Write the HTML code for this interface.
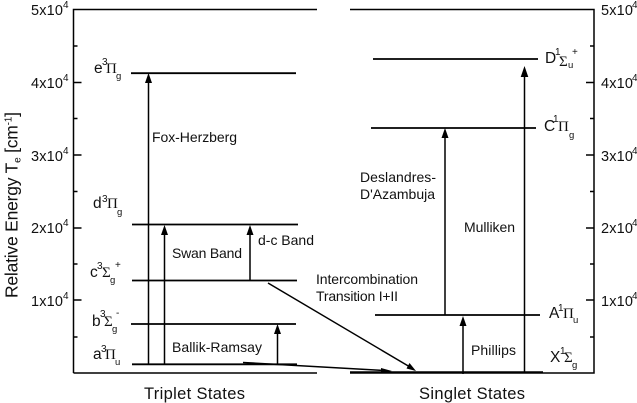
<!DOCTYPE html>
<html><head><meta charset="utf-8"><style>
html,body{margin:0;padding:0;background:#fff}
svg{display:block}
text{font-family:"Liberation Sans",sans-serif;fill:#111}
.t{font-size:14.5px}.l{font-size:14px}.s{font-size:16.5px}.p{font-size:10px}.v{font-size:15.5px}.u{font-size:9.5px}
.g{font-family:"Liberation Serif",serif}
</style></head><body>
<svg width="637" height="403" viewBox="0 0 637 403" xmlns="http://www.w3.org/2000/svg">
<g stroke="#000" fill="none">
<path stroke-width="1.5" d="M73.5 373V9.5H317M350 9.5H594V373H350M317 373H73.5"/>
<path stroke-width="1.4" d="M73.5 82.5h8M73.5 155h8M73.5 228h8M73.5 300h8M73.5 46h4M73.5 118.500h4M73.5 191.500h4M73.5 264h4M73.5 337h4"/>
<path stroke-width="1.4" d="M594 82.5h-8M594 155h-8M594 228h-8M594 300h-8M594 46h-4M594 118.500h-4M594 191.500h-4M594 264h-4M594 337h-4"/>
<path stroke-width="1.8" d="M131 73.2H296M132 224.5H298M132 280.5H297M131 324H296M132 364.3H297M373 59H538M371 128H536M375 315H540M350 372.200H543"/>
<path stroke-width="1.5" d="M148.5 364V80M164.5 364V232M250 280V232M277.5 364V331M445 315V135M524.5 372V73M463 374V323"/>
<path stroke-width="1.5" d="M268 283L410 367M243 362.500L385 370.500"/>
</g>
<g fill="#000">
<path d="M148.500 73l-3.500 10h7zM164.500 225l-3.500 10h7zM250 225l-3.500 10h7zM277.500 324l-3.500 10h7zM445 128l-3.500 10h7zM524.500 66l-3.800 11h7.600zM463 316l-3.500 10h7z"/>
<path d="M416 371l-9.500-2.500 3-5.500zM392 371l-11-3 0 5.500z"/>
</g>
<text class="t" x="31" y="15" textLength="32">5x10</text><text class="p" x="63" y="8">4</text>
<text class="t" x="31" y="88" textLength="32">4x10</text><text class="p" x="63" y="81">4</text>
<text class="t" x="31" y="161" textLength="32">3x10</text><text class="p" x="63" y="154">4</text>
<text class="t" x="31" y="233" textLength="32">2x10</text><text class="p" x="63" y="226">4</text>
<text class="t" x="31" y="306" textLength="32">1x10</text><text class="p" x="63" y="299">4</text>
<text class="t" x="601" y="15" textLength="32">5x10</text><text class="p" x="632" y="8">4</text>
<text class="t" x="601" y="88" textLength="32">4x10</text><text class="p" x="632" y="81">4</text>
<text class="t" x="601" y="161" textLength="32">3x10</text><text class="p" x="632" y="154">4</text>
<text class="t" x="601" y="233" textLength="32">2x10</text><text class="p" x="632" y="226">4</text>
<text class="t" x="601" y="306" textLength="32">1x10</text><text class="p" x="632" y="299">4</text>
<text transform="translate(17.500,298) rotate(-90)" style="font-size:17.500px" textLength="186">Relative Energy T<tspan font-size="10" dy="3">e</tspan><tspan dy="-3"> [cm</tspan><tspan font-size="10" dy="-6">-1</tspan><tspan dy="6">]</tspan></text>
<text class="s" x="144" y="399" textLength="101">Triplet States</text>
<text class="s" x="419" y="399" textLength="106">Singlet States</text>
<text class="l" x="152" y="142" textLength="85">Fox-Herzberg</text>
<text class="l" x="172" y="258" textLength="70">Swan Band</text>
<text class="l" x="258" y="245" textLength="56">d-c Band</text>
<text class="l" x="172" y="352" textLength="90">Ballik-Ramsay</text>
<text class="l" x="316" y="284" textLength="102">Intercombination</text>
<text class="l" x="316" y="301" textLength="82">Transition I+II</text>
<text class="l" x="360" y="182" textLength="76">Deslandres-</text>
<text class="l" x="360" y="199" textLength="75">D'Azambuja</text>
<text class="l" x="464" y="232" textLength="51">Mulliken</text>
<text class="l" x="471" y="355" textLength="45">Phillips</text>
<text class="v" x="94" y="73">e</text><text class="p" x="102" y="65">3</text><text class="g" x="106" y="73" font-size="15">Π</text><text class="u" x="116" y="79">g</text>
<text class="v" x="93" y="208">d</text><text class="p" x="102" y="202">3</text><text class="g" x="107" y="208" font-size="15">Π</text><text class="u" x="117" y="215">g</text>
<text class="v" x="90" y="277">c</text><text class="p" x="97" y="269">3</text><text class="g" x="102" y="277" font-size="15">Σ</text><text class="u" x="110" y="283">g</text><text class="p" x="115" y="268">+</text>
<text class="v" x="92" y="326">b</text><text class="p" x="100" y="317">3</text><text class="g" x="104" y="326" font-size="15">Σ</text><text class="u" x="112" y="332">g</text><text class="p" x="116" y="316">-</text>
<text class="v" x="93" y="359">a</text><text class="p" x="101" y="352">3</text><text class="g" x="105" y="359" font-size="15">Π</text><text class="u" x="115" y="365">u</text>
<text class="v" x="545" y="63">D</text><text class="p" x="555" y="55">1</text><text class="g" x="559" y="66" font-size="15">Σ</text><text class="u" x="568" y="68">u</text><text class="p" x="572" y="55">+</text>
<text class="v" x="544" y="131">C</text><text class="p" x="553" y="122">1</text><text class="g" x="558" y="131" font-size="15">Π</text><text class="u" x="569" y="138">g</text>
<text class="v" x="549" y="318">A</text><text class="p" x="558" y="311">1</text><text class="g" x="563" y="318" font-size="15">Π</text><text class="u" x="573" y="323">u</text>
<text class="v" x="550" y="362">X</text><text class="p" x="560" y="354">1</text><text class="g" x="564" y="362" font-size="15">Σ</text><text class="u" x="572" y="368">g</text>
</svg>
</body></html>
